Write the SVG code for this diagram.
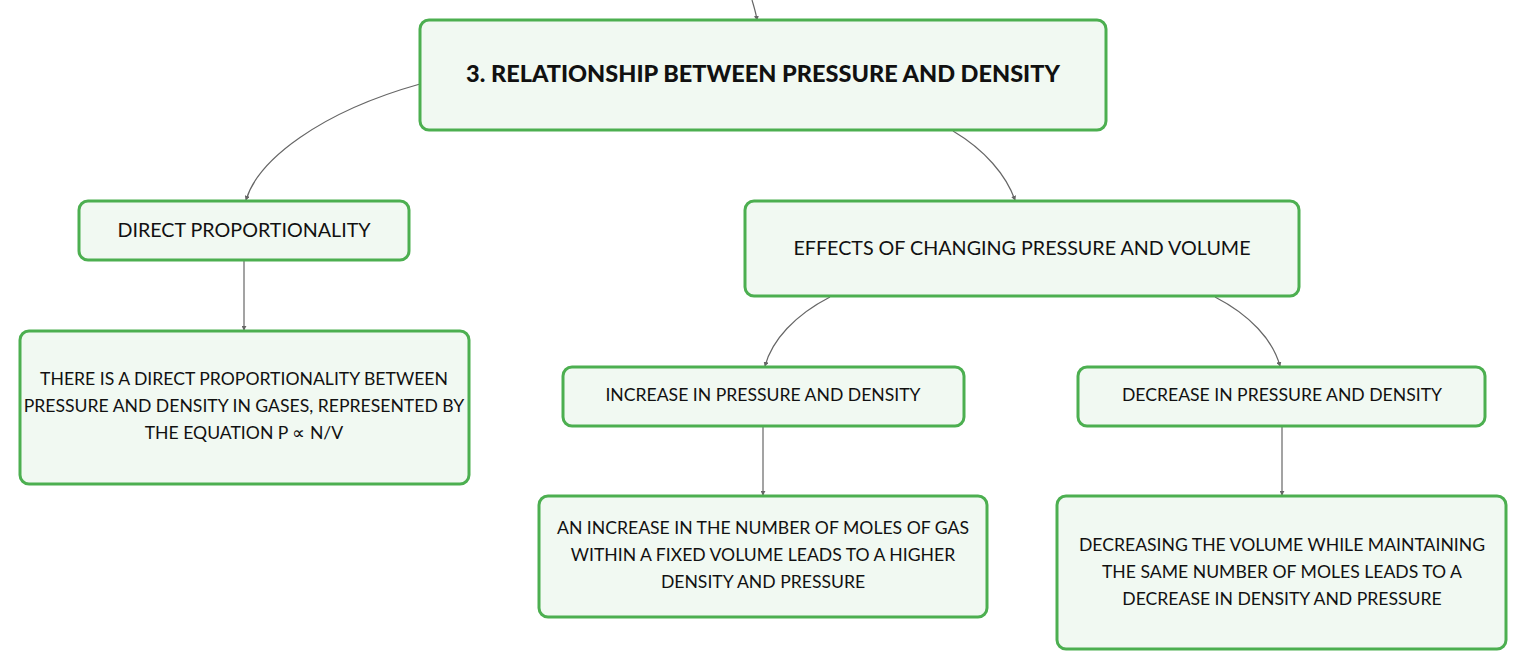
<svg xmlns="http://www.w3.org/2000/svg" width="1527" height="670" viewBox="0 0 1527 670">
<style>
.box{fill:#f1f9f2;stroke:#4caf50;stroke-width:3}
.t{font-family:Lato,"Noto Sans",sans-serif;font-size:17.6px;fill:#111;text-anchor:middle}
.l1{font-size:19.7px}
.b{font-weight:900;font-size:23.5px}
.c{fill:none;stroke:#666;stroke-width:1.2;marker-end:url(#a)}
</style>
<defs>
<marker id="a" viewBox="0 0 6 6" refX="5" refY="3" markerWidth="5" markerHeight="5" orient="auto" markerUnits="userSpaceOnUse">
<path d="M0,0 L6,3 L0,6 z" fill="#666"/>
</marker>
</defs>
<rect width="1527" height="670" fill="#fff"/>
<g id="connectors">
<path class="c" d="M752,0 C754,7 756,13 757,20"/>
<path class="c" d="M420,84 C320,112 258,160 246,200"/>
<path class="c" d="M244,261 L244,330"/>
<path class="c" d="M953,131 C985,150 1006,175 1015,200"/>
<path class="c" d="M830,297 C795,315 772,340 765,366"/>
<path class="c" d="M763,427 L763,495"/>
<path class="c" d="M1215,297 C1250,315 1273,340 1280,366"/>
<path class="c" d="M1282,427 L1282,495"/>
</g>
<g id="root">
<rect class="box" x="420" y="20" width="686" height="110" rx="9"/>
<text class="t b" x="763" y="82">3. RELATIONSHIP BETWEEN PRESSURE AND DENSITY</text>
</g>
<g id="direct">
<rect class="box" x="79" y="201" width="330" height="59" rx="9"/>
<text class="t l1" x="244" y="237">DIRECT PROPORTIONALITY</text>
</g>
<g id="direct-detail">
<rect class="box" x="20" y="331" width="449" height="153" rx="9"/>
<text class="t" x="244" y="385">THERE IS A DIRECT PROPORTIONALITY BETWEEN</text>
<text class="t" x="244" y="412">PRESSURE AND DENSITY IN GASES, REPRESENTED BY</text>
<text class="t" x="244" y="439">THE EQUATION P ∝ N/V</text>
</g>
<g id="effects">
<rect class="box" x="745" y="201" width="554" height="95" rx="9"/>
<text class="t l1" x="1022" y="255">EFFECTS OF CHANGING PRESSURE AND VOLUME</text>
</g>
<g id="increase">
<rect class="box" x="563" y="367" width="401" height="59" rx="9"/>
<text class="t" x="763" y="401">INCREASE IN PRESSURE AND DENSITY</text>
</g>
<g id="increase-detail">
<rect class="box" x="539" y="496" width="448" height="121" rx="9"/>
<text class="t" x="763" y="534">AN INCREASE IN THE NUMBER OF MOLES OF GAS</text>
<text class="t" x="763" y="561">WITHIN A FIXED VOLUME LEADS TO A HIGHER</text>
<text class="t" x="763" y="588">DENSITY AND PRESSURE</text>
</g>
<g id="decrease">
<rect class="box" x="1078" y="367" width="407" height="59" rx="9"/>
<text class="t" x="1282" y="401">DECREASE IN PRESSURE AND DENSITY</text>
</g>
<g id="decrease-detail">
<rect class="box" x="1057" y="496" width="449" height="153" rx="9"/>
<text class="t" x="1282" y="551">DECREASING THE VOLUME WHILE MAINTAINING</text>
<text class="t" x="1282" y="578">THE SAME NUMBER OF MOLES LEADS TO A</text>
<text class="t" x="1282" y="605">DECREASE IN DENSITY AND PRESSURE</text>
</g>
</svg>
